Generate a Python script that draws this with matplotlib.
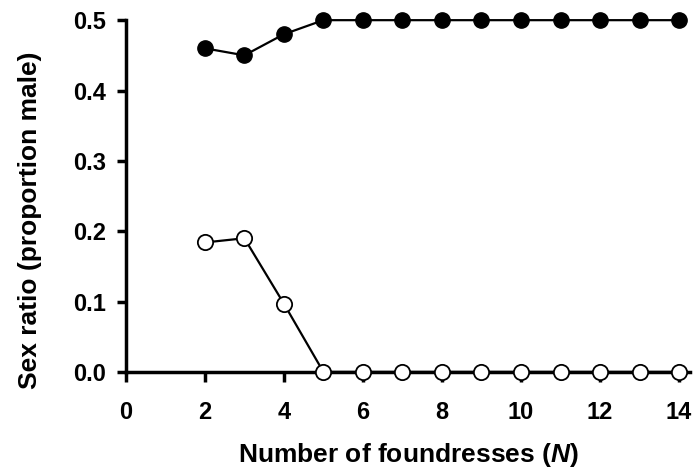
import matplotlib
matplotlib.use("Agg")
import matplotlib.pyplot as plt

plt.rcParams['font.family'] = ['Liberation Sans', 'DejaVu Sans']
plt.rcParams['font.weight'] = 'bold'
plt.rcParams['mathtext.fontset'] = 'custom'
plt.rcParams['mathtext.bfit'] = 'Liberation Sans:bold:italic'

# Data
foundresses = [2, 3, 4, 5, 6, 7, 8, 9, 10, 11, 12, 13, 14]
sr_filled = [0.46, 0.45, 0.48, 0.50, 0.50, 0.50, 0.50, 0.50, 0.50, 0.50, 0.50, 0.50, 0.50]
sr_open = [0.184, 0.190, 0.097, 0.0, 0.0, 0.0, 0.0, 0.0, 0.0, 0.0, 0.0, 0.0, 0.0]
xticks = [0, 2, 4, 6, 8, 10, 12, 14]
yticks = [0.0, 0.1, 0.2, 0.3, 0.4, 0.5]

fig = plt.figure(figsize=(6.95, 4.69), dpi=100)
ax = fig.add_axes([0.181, 0.207, 0.812, 0.750])

ax.plot(foundresses, sr_filled, '-o', color='black', lw=1.6, ms=11,
        mfc='black', mec='black', clip_on=False, zorder=3)
ax.plot(foundresses, sr_open, '-o', color='black', lw=1.6, ms=11,
        mfc='white', mec='black', mew=1.3, clip_on=False, zorder=3)

ax.set_xlim(0, 14.28)
ax.set_ylim(0, 0.5)
ax.set_xticks(xticks)
ax.set_yticks(yticks)
ax.set_yticklabels([f"{v:.1f}" for v in yticks])

for s in ['top', 'right']:
    ax.spines[s].set_visible(False)
for s in ['left', 'bottom']:
    ax.spines[s].set_linewidth(2.5)

ax.tick_params(direction='out', width=2.5, labelsize=17)
ax.tick_params(axis='x', length=7, pad=14)
ax.tick_params(axis='y', length=6.5, pad=8)

ax.set_xlabel('Number of foundresses ($\\boldsymbol{N}$)', fontsize=19,
              fontweight='bold', labelpad=12)
ax.set_ylabel('Sex ratio (proportion male)', fontsize=19,
              fontweight='bold')
ax.yaxis.set_label_coords(-0.149, 0.432)

fig.savefig('out.png', dpi=100)
